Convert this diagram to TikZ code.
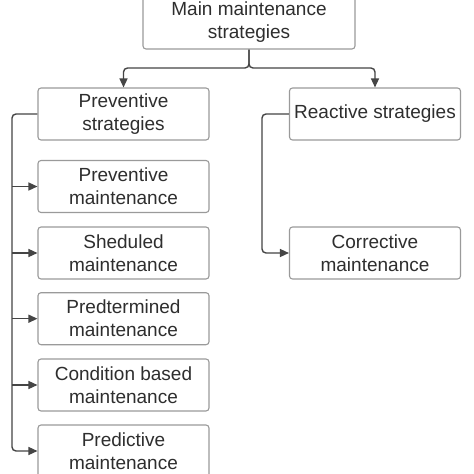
\documentclass[tikz,border=0pt]{standalone}
\usepackage{fontspec}
\setmainfont{Liberation Sans}
\usetikzlibrary{arrows.meta}
\definecolor{txt}{HTML}{2E2E2E}
\definecolor{edge}{HTML}{9A9A9A}
\definecolor{wire}{HTML}{454545}
\tikzset{
  box/.style={draw=edge, line width=1.1pt, rounded corners=3pt, fill=white,
    minimum width=171pt, minimum height=52pt, align=center, text=txt,
    font=\fontsize{19}{23}\selectfont, inner sep=0pt},
  conn/.style={draw=wire, line width=1.4pt, rounded corners=4pt},
  tip/.style={-{Triangle[length=9pt,width=8pt]}}
}
\begin{document}
\begin{tikzpicture}[x=1pt,y=-1pt]
\useasboundingbox[fill=white] (0,0) rectangle (474,474);
\node[box, minimum width=212pt, minimum height=54pt] (ms) at (249,22) {Main maintenance\\strategies};
\node[box] (ps) at (123.5,114) {Preventive\\strategies};
\node[box] (rs) at (375,114) {Reactive strategies};
\node[box] (p1) at (123.5,186.5) {Preventive\\maintenance};
\node[box] (p2) at (123.5,253) {Sheduled\\maintenance};
\node[box] (p3) at (123.5,318.7) {Predtermined\\maintenance};
\node[box] (p4) at (123.5,385) {Condition based\\maintenance};
\node[box] (p5) at (123.5,451) {Predictive\\maintenance};
\node[box] (cm) at (375,253) {Corrective\\maintenance};
\coordinate (j) at (249,68);
\coordinate (L) at (12,114);
\coordinate (R) at (262,114);
\draw[conn,tip] (ms.south) -- (j) -| (ps.north);
\draw[conn,tip] (ms.south) -- (j) -| (rs.north);
\draw[conn,tip] (ps.west) -- (L) |- (p5.west);
\draw[conn,tip] (L |- p1.west) -- (p1.west);
\draw[conn,tip] (L |- p2.west) -- (p2.west);
\draw[conn,tip] (L |- p3.west) -- (p3.west);
\draw[conn,tip] (L |- p4.west) -- (p4.west);
\draw[conn,tip] (rs.west) -- (R) |- (cm.west);
\end{tikzpicture}
\end{document}
